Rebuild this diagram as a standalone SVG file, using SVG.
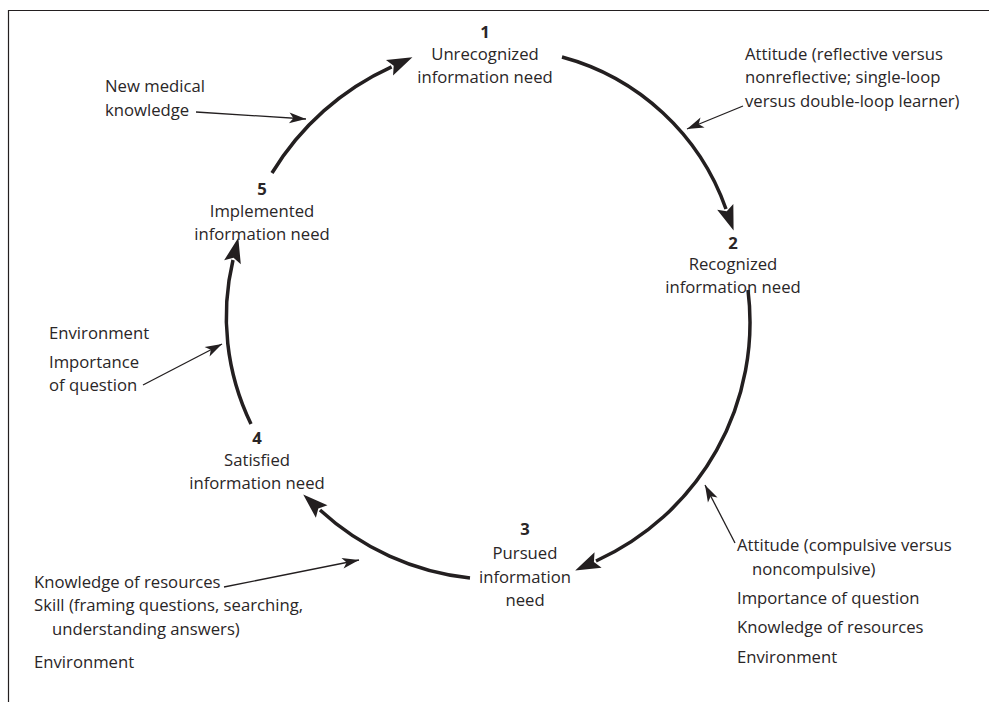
<svg xmlns="http://www.w3.org/2000/svg" width="989" height="702" viewBox="0 0 989 702">
<style>
text{font-family:"Open Sans","Noto Sans","Liberation Sans",sans-serif;font-size:16.7px;fill:#2a2627}
.c{text-anchor:middle}
.b{font-weight:bold}
.arc{fill:none;stroke:#231f20;stroke-width:3.5}
.thin{fill:none;stroke:#231f20;stroke-width:1.3}
.frame{fill:none;stroke:#231f20;stroke-width:1.2}
</style>
<defs>
<marker id="big" markerUnits="userSpaceOnUse" markerWidth="40" markerHeight="40" viewBox="-5 -15 35 30" refX="2" refY="0" orient="auto"><path d="M0,-7.5 L22,0 L0,7.5 L4,0 Z" fill="#231f20"/></marker>
<marker id="small" markerUnits="userSpaceOnUse" markerWidth="24" markerHeight="24" viewBox="-2 -8 20 16" refX="14" refY="0" orient="auto"><path d="M0,-4.5 L14,0 L0,4.5 L3.5,0 Z" fill="#231f20"/></marker>
</defs>
<path class="frame" d="M8.5,702 V10.5 H989"/>
<g id="connectors">
<path class="arc" d="M272,173 A270 270 0 0 1 391.6,66.8" marker-end="url(#big)"/>
<path class="arc" d="M562,57 A240 240 0 0 1 726,209" marker-end="url(#big)"/>
<path class="arc" d="M748,290 A262 262 0 0 1 596,561" marker-end="url(#big)"/>
<path class="arc" d="M470,578 A262 262 0 0 1 320,510" marker-end="url(#big)"/>
<path class="arc" d="M251,424 A245 245 0 0 1 233,260" marker-end="url(#big)"/>
<path class="thin" d="M196,112 L306,119" marker-end="url(#small)"/>
<path class="thin" d="M743,106 L687,129" marker-end="url(#small)"/>
<path class="thin" d="M143,385 L222,344" marker-end="url(#small)"/>
<path class="thin" d="M224,587 L359,560" marker-end="url(#small)"/>
<path class="thin" d="M735,543 L705,485" marker-end="url(#small)"/>
</g>
<g id="node1">
<text class="c b" x="485" y="38">1</text>
<text class="c" x="485" y="60">Unrecognized</text>
<text class="c" x="485" y="83">information need</text>
</g>
<g id="node2">
<text class="c b" x="733" y="249">2</text>
<text class="c" x="733" y="270">Recognized</text>
<text class="c" x="733" y="293">information need</text>
</g>
<g id="node3">
<text class="c b" x="525" y="535">3</text>
<text class="c" x="525" y="559">Pursued</text>
<text class="c" x="525" y="583">information</text>
<text class="c" x="525" y="606">need</text>
</g>
<g id="node4">
<text class="c b" x="257" y="444">4</text>
<text class="c" x="257" y="466">Satisfied</text>
<text class="c" x="257" y="489">information need</text>
</g>
<g id="node5">
<text class="c b" x="262" y="195">5</text>
<text class="c" x="262" y="217">Implemented</text>
<text class="c" x="262" y="240">information need</text>
</g>
<g id="label-new-knowledge">
<text x="105" y="92">New medical</text>
<text x="105" y="116">knowledge</text>
</g>
<g id="label-attitude-reflective">
<text x="745" y="60">Attitude (reflective versus</text>
<text x="745" y="83">nonreflective; single-loop</text>
<text x="745" y="107">versus double-loop learner)</text>
</g>
<g id="label-environment-importance">
<text x="49" y="339">Environment</text>
<text x="49" y="368">Importance</text>
<text x="49" y="391">of question</text>
</g>
<g id="label-resources-skill">
<text x="34" y="588">Knowledge of resources</text>
<text x="34" y="611">Skill (framing questions, searching,</text>
<text x="52" y="635">understanding answers)</text>
<text x="34" y="668">Environment</text>
</g>
<g id="label-attitude-compulsive">
<text x="737" y="551">Attitude (compulsive versus</text>
<text x="752" y="575">noncompulsive)</text>
<text x="737" y="604">Importance of question</text>
<text x="737" y="633">Knowledge of resources</text>
<text x="737" y="663">Environment</text>
</g>
</svg>
